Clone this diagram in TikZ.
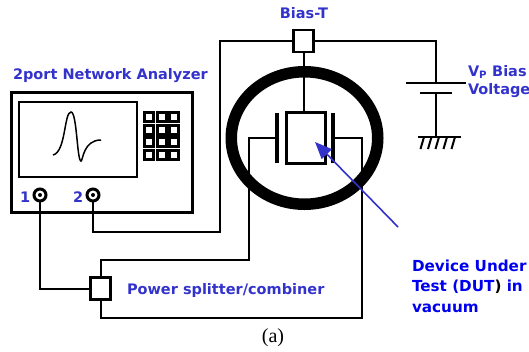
\documentclass[tikz,border=0pt]{standalone}
\usepackage{fontspec}
\setmainfont{DejaVu Sans}
\newfontfamily\capfont{Liberation Serif}
\usepackage{xcolor}
\usetikzlibrary{arrows.meta, positioning, shapes.geometric, calc}
\definecolor{labelblue}{RGB}{51,51,204}
\definecolor{dutblue}{RGB}{0,0,240}

\begin{document}
\begin{tikzpicture}[
  x=1pt, y=-1pt,
  every node/.style={inner sep=0pt, outer sep=0pt},
  wire/.style={line width=2pt, line join=miter, black},
  boxjunction/.style={draw, line width=2.4pt, fill=white, minimum width=20pt, minimum height=22pt},
  keycell/.style={draw, line width=3pt, fill=white, minimum size=9pt},
  portjack/.style={draw, circle, line width=3pt, fill=white, minimum size=12pt},
  plate/.style={fill=black, minimum width=3.5pt, minimum height=50pt},
  tag/.style={font=\bfseries\fontsize{14.5}{14.5}\selectfont, text=labelblue, anchor=west},
  dut/.style={font=\bfseries\fontsize{15.2}{15.2}\selectfont, text=dutblue, anchor=west},
  pointer/.style={-{Triangle[length=17pt, width=14pt]}, line width=1.6pt, labelblue},
]
\useasboundingbox (0,0) rectangle (529,351);

% Network analyzer
\node[draw, line width=3pt, minimum width=181pt, minimum height=120pt] (analyzer) at (101.5,152.5) {};
\node[draw, line width=1.8pt, minimum width=118pt, minimum height=75pt] (screen) at (78,139.5) {};
\draw[line width=1.5pt] (53,155) .. controls (66,152) and (64,112) .. (71,112)
  .. controls (77,112) and (77,161) .. (81,161) .. controls (83,161) and (83,140) .. (101,140);
\foreach \r/\ypos in {1/117, 2/129.5, 3/142, 4/155} {
  \foreach \c/\xpos in {1/149, 2/161.5, 3/174} {
    \node[keycell] (key\r\c) at (\xpos,\ypos) {};
  }
}

% Vacuum chamber and device
\node[draw, ellipse, line width=11.5pt, minimum width=146.5pt, minimum height=132.5pt] (chamber) at (304.5,138) {};
\node[draw, line width=3pt, minimum width=39pt, minimum height=51pt] (device) at (305.5,137.5) {};
\node[plate] (platel) at (277,138) {};
\node[plate] (plater) at (333,138) {};

% Junction boxes and ports
\node[boxjunction] (biastee) at (303.5,41) {};
\node[boxjunction] (splitter) at (100.5,288.5) {};
\node[portjack] (port1) at (40,195) {};
\node[portjack] (port2) at (93,195) {};
\node[circle, fill=black, minimum size=4pt] (inner1) at (port1) {};
\node[circle, fill=black, minimum size=4pt] (inner2) at (port2) {};

% Battery
\node[fill=black, minimum width=60pt, minimum height=2.2pt] (plus) at (436,83) {};
\node[fill=black, minimum width=32pt, minimum height=2.2pt] (minus) at (436,93) {};
\node[fill=black, minimum width=43pt, minimum height=2.2pt] (ground) at (439.5,137) {};
\foreach \xpos in {424,431.5,439,447,455} {
  \draw[line width=2pt] (\xpos,137) -- ++(-3.5,12);
}

% Wires
\coordinate (bendna) at (220,232);
\coordinate (bendl) at (249,260);
\coordinate (bendr) at (362,318);
\draw[wire] (port2.south) |- (bendna) |- (biastee.west);
\draw[wire] (biastee.east) -| (plus.north);
\draw[wire] (minus.south) -- (minus.south -| plus.north) -- (ground.north -| plus.north);
\draw[wire] (biastee.south) -- (biastee.south |- device.north);
\draw[wire] (port1.south) |- (splitter.west);
\draw[wire] (platel.west) -| (bendl) -| (splitter.north);
\draw[wire] (plater.east) -| (bendr) -| (splitter.south);

% Pointer to device
\coordinate (dutfoot) at (398,227);
\coordinate (duttip) at (315,142);
\draw[pointer] (dutfoot) -- (duttip);

% Labels
\node[tag] (nalabel) at (13,76) {2port Network Analyzer};
\node[tag, anchor=center] (biaslabel) at (304,13) {Bias-T};
\node[tag] (port1label) at (20,197) {1};
\node[tag] (port2label) at (73,197) {2};
\node[tag] (vplabel) at (468,72) {V\textsubscript{P} Bias};
\node[tag] (voltlabel) at (468,91) {Voltage};
\node[tag] (splitlabel) at (127,290) {Power splitter/combiner};
\node[dut] (dutone) at (412,266) {Device Under};
\node[dut] (duttwo) at (412,287) {Test (DUT\textcolor{black}{)} in};
\node[dut] (dutthree) at (412,308) {vacuum};
\node[font=\capfont\fontsize{20}{20}\selectfont] (caption) at (273,338) {(a)};

\end{tikzpicture}
\end{document}
